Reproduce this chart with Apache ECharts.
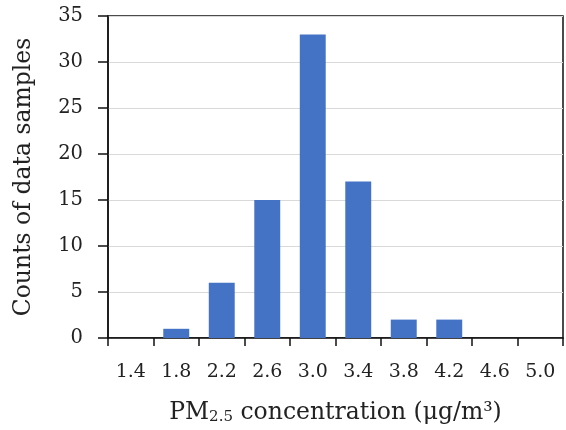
<!DOCTYPE html>
<html>
<head>
<meta charset="utf-8">
<script src="https://cdn.jsdelivr.net/npm/echarts@6/dist/echarts.min.js"></script>
<style>html,body{margin:0;padding:0;background:#fff}#c{width:566px;height:430px}</style>
</head>
<body>
<div id="c"></div>
<script>
const categories = ['1.4','1.8','2.2','2.6','3.0','3.4','3.8','4.2','4.6','5.0'];
const counts = [0, 1, 6, 15, 33, 17, 2, 2, 0, 0];
const yTicks = {min: 0, max: 35, interval: 5};

const FONT = 'DejaVu Serif';
const chart = echarts.init(document.getElementById('c'), null, {renderer: 'canvas'});
chart.setOption({
  animation: false,
  backgroundColor: '#fff',
  grid: {left: 108, right: 3, top: 16, bottom: 92, show: true, borderColor: '#111', borderWidth: 1.5, backgroundColor: 'transparent'},
  xAxis: {
    type: 'category',
    data: categories,
    axisLine: {lineStyle: {color: '#111', width: 1.5}},
    axisTick: {show: true, alignWithLabel: false, length: 8, lineStyle: {color: '#111', width: 1.5}},
    axisLabel: {fontFamily: FONT, fontSize: 19, color: '#222', margin: 25},
    name: '{a|PM}{s|2.5}{a| concentration (μg/m³)}',
    nameLocation: 'middle',
    nameGap: 62,
    nameTextStyle: {
      rich: {
        a: {fontFamily: FONT, fontSize: 23.5, color: '#222'},
        s: {fontFamily: FONT, fontSize: 15, color: '#222', verticalAlign: 'bottom', padding: [10, 0, 0, 0]}
      }
    }
  },
  yAxis: {
    type: 'value',
    min: yTicks.min, max: yTicks.max, interval: yTicks.interval,
    axisLine: {show: true, lineStyle: {color: '#111', width: 1.5}},
    axisTick: {show: true, length: 10, lineStyle: {color: '#111', width: 1.5}},
    axisLabel: {fontFamily: FONT, fontSize: 19.5, color: '#222', margin: 25},
    splitLine: {show: true, lineStyle: {color: '#d9d9d9', width: 1.2}},
    name: 'Counts of data samples',
    nameLocation: 'middle',
    nameGap: 72,
    nameTextStyle: {fontFamily: FONT, fontSize: 23.5, color: '#222'}
  },
  series: [{
    type: 'bar',
    data: counts,
    barWidth: '57%',
    itemStyle: {color: '#4472C4'}
  }]
});
</script>
</body>
</html>
